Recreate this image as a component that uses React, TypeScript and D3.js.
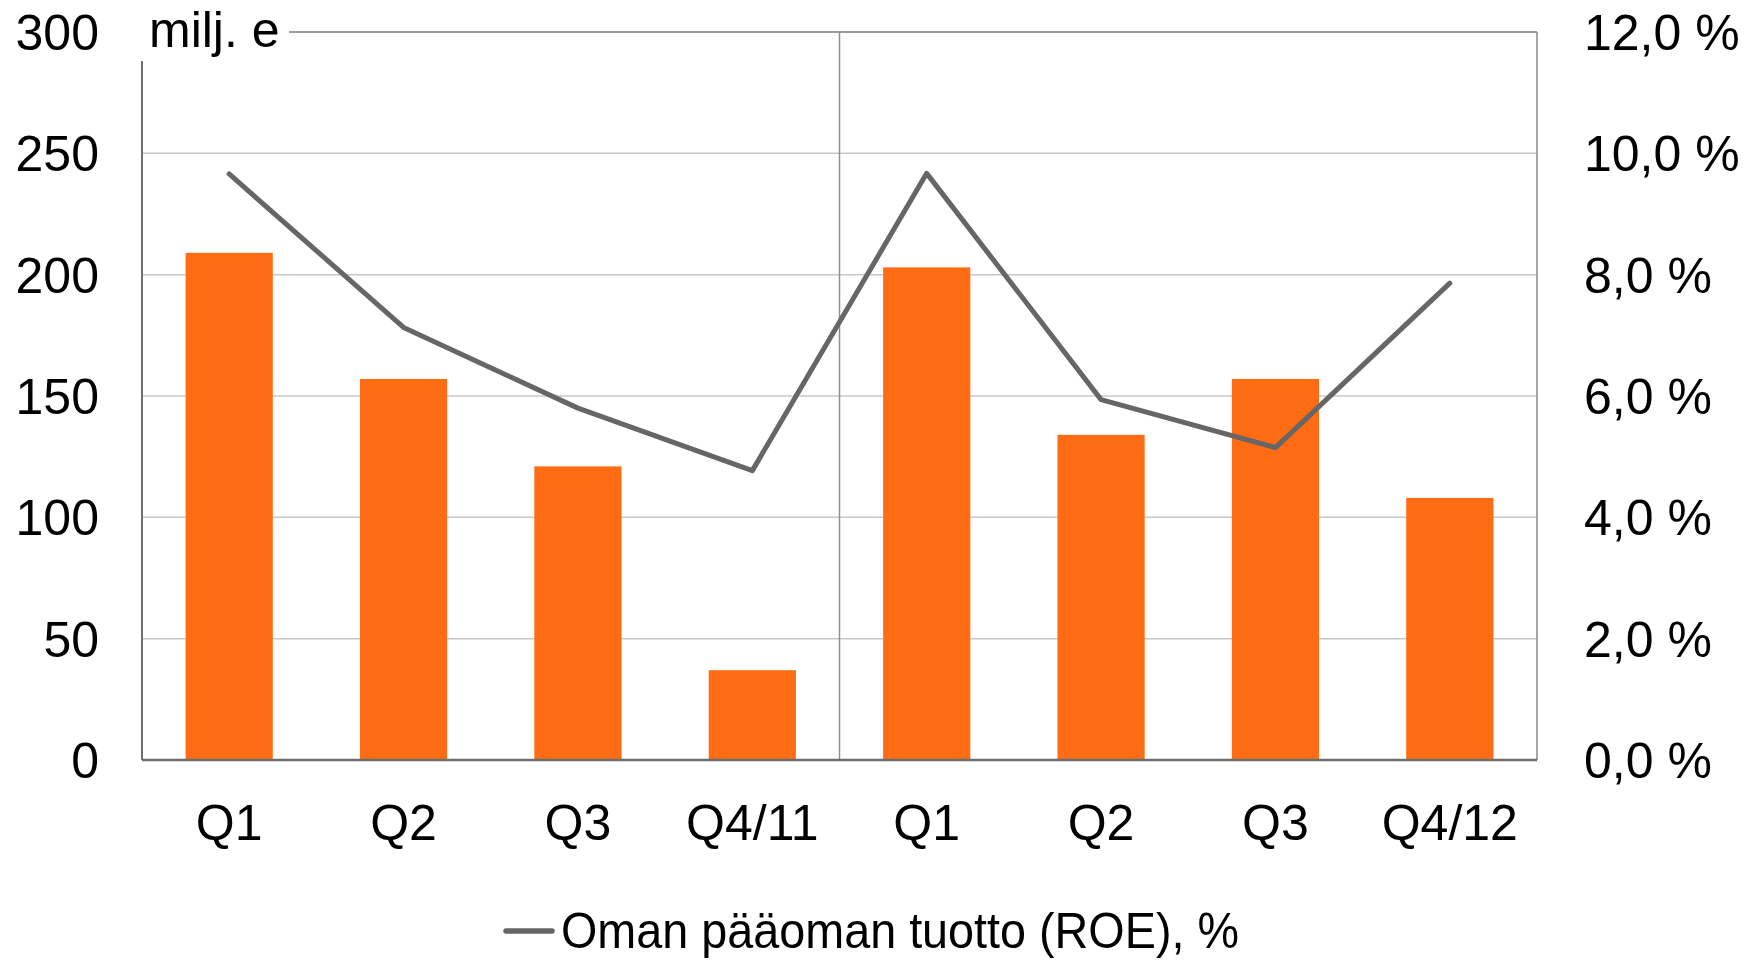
import React from "react";
import * as d3 from "d3";

const categories = ["Q1", "Q2", "Q3", "Q4/11", "Q1 ", "Q2 ", "Q3 ", "Q4/12"];
const categoryLabels = ["Q1", "Q2", "Q3", "Q4/11", "Q1", "Q2", "Q3", "Q4/12"];
const barValues = [209, 157, 121, 37, 203, 134, 157, 108];
const roeValues = [9.66, 7.13, 5.8, 4.77, 9.67, 5.94, 5.15, 7.86];
const leftTicks = [0, 50, 100, 150, 200, 250, 300];
const rightTicks = [0, 2, 4, 6, 8, 10, 12];
const unitLabel = "milj. e";
const legendLabel = "Oman pääoman tuotto (ROE), %";

const W = 1762;
const H = 961;
const M = { left: 142, right: 1537, top: 32, bottom: 760 };
const FONT = "'Liberation Sans', Arial, Helvetica, sans-serif";
const BAR = "#FF6C13";
const LINE = "#666666";

export default function App() {
  const x = d3
    .scaleBand<string>()
    .domain(categories)
    .range([M.left, M.right])
    .paddingInner(0.5)
    .paddingOuter(0.25);
  const y = d3.scaleLinear().domain([0, 300]).range([M.bottom, M.top]);
  const y2 = d3.scaleLinear().domain([0, 12]).range([M.bottom, M.top]);

  const line = d3
    .line<number>()
    .x((_, i) => (x(categories[i]) as number) + x.bandwidth() / 2)
    .y((d) => y2(d));

  const fmt = (v: number) => v.toFixed(1).replace(".", ",") + " %";
  const midX = (x(categories[4]) as number) - (x.step() * 0.5 - x.bandwidth() / 2);

  return (
    <svg
      width={W}
      height={H}
      style={{ position: "absolute", left: 0, top: 0, background: "#fff" }}
      fontFamily={FONT}
    >
      {leftTicks
        .filter((t) => t > 0 && t < 300)
        .map((t) => (
          <line
            key={"g" + t}
            x1={M.left}
            x2={M.right}
            y1={y(t)}
            y2={y(t)}
            stroke="#c8c8c8"
            strokeWidth={1.5}
          />
        ))}
      <line x1={289} x2={M.right} y1={y(300)} y2={y(300)} stroke="#7a7a7a" strokeWidth={1.5} />
      <line x1={M.right} x2={M.right} y1={y(300)} y2={M.bottom} stroke="#8a8a8a" strokeWidth={1.5} />
      <line x1={midX} x2={midX} y1={y(300)} y2={M.bottom} stroke="#8f8f8f" strokeWidth={1.5} />
      {barValues.map((v, i) => (
        <rect
          key={"b" + i}
          x={x(categories[i])}
          y={y(v)}
          width={x.bandwidth()}
          height={M.bottom - y(v)}
          fill={BAR}
        />
      ))}
      <line x1={M.left} x2={M.left} y1={61} y2={M.bottom} stroke="#6e6e6e" strokeWidth={2} />
      <line x1={M.left} x2={M.right} y1={M.bottom} y2={M.bottom} stroke="#6e6e6e" strokeWidth={2.5} />
      <path
        d={line(roeValues) || ""}
        fill="none"
        stroke={LINE}
        strokeWidth={5}
        strokeLinejoin="round"
        strokeLinecap="round"
      />
      {leftTicks.map((t) => (
        <text
          key={"l" + t}
          x={99}
          y={y(t)}
          dy="0.36em"
          textAnchor="end"
          fontSize={50}
          fill="#000"
        >
          {t}
        </text>
      ))}
      {rightTicks.map((t) => (
        <text
          key={"r" + t}
          x={1584}
          y={y2(t)}
          dy="0.36em"
          textAnchor="start"
          fontSize={50}
          fill="#000"
        >
          {fmt(t)}
        </text>
      ))}
      <text x={149} y={47} fontSize={50} fill="#000">
        {unitLabel}
      </text>
      {categories.map((c, i) => (
        <text
          key={"x" + i}
          x={(x(c) as number) + x.bandwidth() / 2}
          y={840}
          textAnchor="middle"
          fontSize={50}
          fill="#000"
        >
          {categoryLabels[i]}
        </text>
      ))}
      <line x1={506} x2={552} y1={931} y2={931} stroke={LINE} strokeWidth={5.5} strokeLinecap="round" />
      <text
        x={561}
        y={948}
        fontSize={50}
        fill="#000"
        textLength={678}
        lengthAdjust="spacingAndGlyphs"
      >
        {legendLabel}
      </text>
    </svg>
  );
}
